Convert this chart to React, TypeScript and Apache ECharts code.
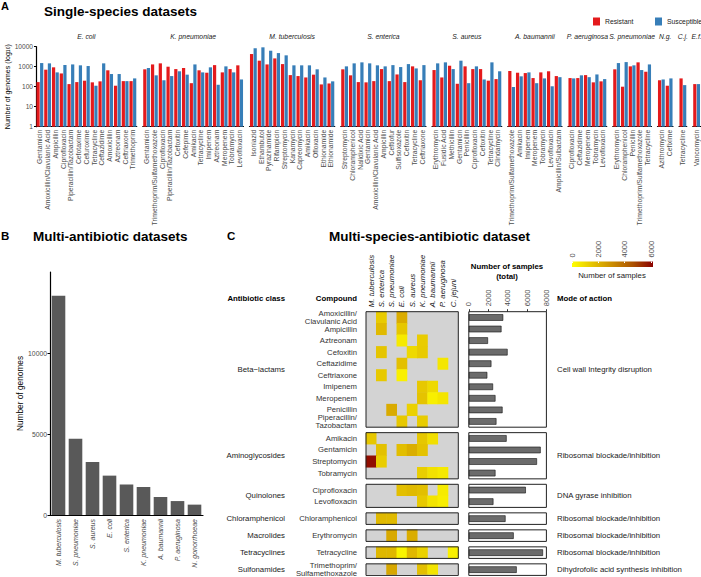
import React, { useEffect, useRef } from "react";
import * as echarts from "echarts";

const FONT = "'Liberation Sans', Arial, Helvetica, sans-serif";
const RED = "#E41A1C";
const BLUE = "#377EB8";
const AXIS_TEXT = "#4D4D4D";

// ---------------- Panel A: single-species datasets ----------------
const ecoliDrugs = ["Gentamicin", "Amoxicillin/Clavulanic Acid", "Ampicillin", "Ciprofloxacin", "Piperacillin/Tazobactam", "Cefotaxime", "Cefuroxime", "Tetracycline", "Ceftazidime", "Amoxicillin", "Aztreonam", "Ceftriaxone", "Trimethoprim"];
const ecoliResistant = [170, 710, 930, 460, 135, 170, 200, 165, 185, 660, 112, 190, 190];
const ecoliSusceptible = [1520, 1470, 520, 1200, 1300, 1170, 1080, 112, 1470, 430, 430, 190, 260];

const kpnDrugs = ["Gentamicin", "Trimethoprim/Sulfamethoxazole", "Ciprofloxacin", "Piperacillin/Tazobactam", "Cefoxitin", "Cefepime", "Amikacin", "Tetracycline", "Imipenem", "Aztreonam", "Meropenem", "Tobramycin", "Levofloxacin"];
const kpnResistant = [740, 1300, 1470, 1000, 760, 860, 150, 660, 500, 1200, 520, 760, 1170];
const kpnSusceptible = [860, 370, 210, 340, 590, 400, 1300, 520, 930, 125, 1040, 520, 230];

const mtbDrugs = ["Isoniazid", "Ethambutol", "Pyrazinamide", "Rifampicin", "Streptomycin", "Kanamycin", "Capreomycin", "Amikacin", "Ofloxacin", "Ethionamide", "Ethionamide"];
const mtbResistant = [4300, 2000, 1300, 2600, 1350, 380, 340, 290, 400, 130, 145];
const mtbSusceptible = [8300, 9300, 6300, 4800, 3700, 1170, 1170, 1170, 740, 290, 185];

const senDrugs = ["Streptomycin", "Chloramphenicol", "Nalidixic Acid", "Gentamicin", "Amoxicillin/Clavulanic Acid", "Ampicillin", "Ceftiofur", "Sulfisoxazole", "Cefoxitin", "Tetracycline", "Ceftriaxone"];
const senResistant = [740, 370, 170, 165, 190, 760, 190, 410, 170, 1040, 210];
const senSusceptible = [1040, 1470, 1650, 1470, 1170, 1040, 1200, 960, 1350, 820, 1200];

const sauDrugs = ["Erythromycin", "Fusidic Acid", "Methicillin", "Gentamicin", "Penicillin", "Ciprofloxacin", "Cefoxitin", "Tetracycline", "Clindamycin"];
const sauResistant = [680, 290, 1120, 140, 1040, 760, 760, 200, 240];
const sauSusceptible = [1470, 1650, 760, 2000, 150, 1040, 230, 1650, 590];

const abaDrugs = ["Trimethoprim/Sulfamethoxazole", "Amikacin", "Imipenem", "Meropenem", "Tobramycin", "Levofloxacin", "Ampicillin/Sulbactam"];
const abaResistant = [610, 500, 480, 270, 520, 590, 340];
const abaSusceptible = [96, 330, 520, 150, 260, 105, 300];

const paeDrugs = ["Ciprofloxacin", "Ceftazidime", "Meropenem", "Tobramycin", "Levofloxacin"];
const paeResistant = [270, 270, 380, 165, 185];
const paeSusceptible = [260, 370, 300, 410, 240];

const spnDrugs = ["Erythromycin", "Chloramphenicol", "Penicillin", "Trimethoprim/Sulfamethoxazole", "Tetracycline"];
const spnResistant = [740, 100, 1040, 1650, 560];
const spnSusceptible = [1520, 1700, 1170, 680, 1300];

const ngoDrugs = ["Azithromycin", "Cefixime"];
const ngoResistant = [210, 112];
const ngoSusceptible = [230, 260];

const cjeDrugs = ["Tetracycline"];
const cjeResistant = [260];
const cjeSusceptible = [120];

const efaDrugs = ["Vancomycin"];
const efaResistant = [135];
const efaSusceptible = [135];

const facetSpecies = ["E. coli", "K. pneumoniae", "M. tuberculosis", "S. enterica", "S. aureus", "A. baumannii", "P. aeruginosa", "S. pneumoniae", "N.g.", "C.j.", "E.f."];
const facetDrugs = [ecoliDrugs, kpnDrugs, mtbDrugs, senDrugs, sauDrugs, abaDrugs, paeDrugs, spnDrugs, ngoDrugs, cjeDrugs, efaDrugs];
const facetResistant = [ecoliResistant, kpnResistant, mtbResistant, senResistant, sauResistant, abaResistant, paeResistant, spnResistant, ngoResistant, cjeResistant, efaResistant];
const facetSusceptible = [ecoliSusceptible, kpnSusceptible, mtbSusceptible, senSusceptible, sauSusceptible, abaSusceptible, paeSusceptible, spnSusceptible, ngoSusceptible, cjeSusceptible, efaSusceptible];

// ---------------- Panel B: multi-antibiotic datasets ----------------
const speciesB = ["M. tuberculosis", "S. pneumoniae", "S. aureus", "E. coli", "S. enterica", "K. pneumoniae", "A. baumannii", "P. aeruginosa", "N. gonorrhoeae"];
const genomesB = [13540, 4710, 3270, 2430, 1890, 1730, 1110, 860, 640];
const genomeTicks = [0, 5000, 10000];

// ---------------- Panel C: multi-species-antibiotic dataset ----------------
const speciesC = ["M. tuberculosis", "S. enterica", "S. pneumoniae", "E. coli", "S. aureus", "K. pneumoniae", "A. baumannii", "P. aeruginosa", "C. jejuni"];
const classNames = ["Beta\u2212lactams", "Aminoglycosides", "Quinolones", "Chloramphenicol", "Macrolides", "Tetracyclines", "Sulfonamides"];
const modeOfAction = ["Cell wall Integrity disruption", "Ribosomal blockade/inhibition", "DNA gyrase inhibition", "Ribosomal blockade/inhibition", "Ribosomal blockade/inhibition", "Ribosomal blockade/inhibition", "Dihydrofolic acid synthesis inhibition"];

const betaCompounds = ["Amoxicillin/\nClavulanic Acid", "Ampicillin", "Aztreonam", "Cefoxitin", "Ceftazidime", "Ceftriaxone", "Imipenem", "Meropenem", "Penicillin", "Piperacillin/\nTazobactam"];
const aminoCompounds = ["Amikacin", "Gentamicin", "Streptomycin", "Tobramycin"];
const quinoCompounds = ["Ciprofloxacin", "Levofloxacin"];
const chloraCompounds = ["Chloramphenicol"];
const macroCompounds = ["Erythromycin"];
const tetraCompounds = ["Tetracycline"];
const sulfaCompounds = ["Trimethoprim/\nSulfamethoxazole"];

const betaCells: [string, string, number][] = [
  ["Amoxicillin/\nClavulanic Acid", "S. enterica", 1360],
  ["Amoxicillin/\nClavulanic Acid", "E. coli", 2180],
  ["Ampicillin", "S. enterica", 1800],
  ["Ampicillin", "E. coli", 1450],
  ["Aztreonam", "E. coli", 540],
  ["Aztreonam", "K. pneumoniae", 1330],
  ["Cefoxitin", "S. enterica", 1520],
  ["Cefoxitin", "S. aureus", 990],
  ["Cefoxitin", "K. pneumoniae", 1350],
  ["Ceftazidime", "E. coli", 1650],
  ["Ceftazidime", "P. aeruginosa", 640],
  ["Ceftriaxone", "S. enterica", 1410],
  ["Ceftriaxone", "E. coli", 380],
  ["Imipenem", "K. pneumoniae", 1430],
  ["Imipenem", "A. baumannii", 1000],
  ["Meropenem", "K. pneumoniae", 1560],
  ["Meropenem", "A. baumannii", 420],
  ["Meropenem", "P. aeruginosa", 680],
  ["Penicillin", "S. pneumoniae", 2210],
  ["Penicillin", "S. aureus", 1190],
  ["Piperacillin/\nTazobactam", "E. coli", 1430],
  ["Piperacillin/\nTazobactam", "K. pneumoniae", 1340],
];
const aminoCells: [string, string, number][] = [
  ["Amikacin", "M. tuberculosis", 1460],
  ["Amikacin", "K. pneumoniae", 1450],
  ["Amikacin", "A. baumannii", 830],
  ["Gentamicin", "S. enterica", 1630],
  ["Gentamicin", "E. coli", 1690],
  ["Gentamicin", "S. aureus", 2140],
  ["Gentamicin", "K. pneumoniae", 1600],
  ["Streptomycin", "M. tuberculosis", 5900],
  ["Streptomycin", "S. enterica", 1300],
  ["Tobramycin", "K. pneumoniae", 1280],
  ["Tobramycin", "A. baumannii", 780],
  ["Tobramycin", "P. aeruginosa", 580],
];
const quinoCells: [string, string, number][] = [
  ["Ciprofloxacin", "E. coli", 1660],
  ["Ciprofloxacin", "S. aureus", 1800],
  ["Ciprofloxacin", "K. pneumoniae", 1680],
  ["Ciprofloxacin", "P. aeruginosa", 530],
  ["Levofloxacin", "K. pneumoniae", 1400],
  ["Levofloxacin", "A. baumannii", 700],
  ["Levofloxacin", "P. aeruginosa", 430],
];
const chloraCells: [string, string, number][] = [
  ["Chloramphenicol", "S. enterica", 1840],
  ["Chloramphenicol", "S. pneumoniae", 1800],
];
const macroCells: [string, string, number][] = [
  ["Erythromycin", "S. pneumoniae", 2260],
  ["Erythromycin", "S. aureus", 2150],
];
const tetraCells: [string, string, number][] = [
  ["Tetracycline", "S. enterica", 1860],
  ["Tetracycline", "S. pneumoniae", 1860],
  ["Tetracycline", "E. coli", 280],
  ["Tetracycline", "S. aureus", 1850],
  ["Tetracycline", "K. pneumoniae", 1180],
  ["Tetracycline", "C. jejuni", 380],
];
const sulfaCells: [string, string, number][] = [
  ["Trimethoprim/\nSulfamethoxazole", "S. pneumoniae", 2330],
  ["Trimethoprim/\nSulfamethoxazole", "K. pneumoniae", 1670],
  ["Trimethoprim/\nSulfamethoxazole", "A. baumannii", 700],
];

const betaTotals = [3550, 3370, 1980, 4000, 2330, 1910, 2500, 2750, 3480, 2850];
const aminoTotals = [3900, 7410, 7030, 2750];
const quinoTotals = [5880, 2540];
const chloraTotals = [3790];
const macroTotals = [4630];
const tetraTotals = [7650];
const sulfaTotals = [4940];
const totalTicks = [0, 2000, 4000, 6000, 8000];

const classCompounds = [betaCompounds, aminoCompounds, quinoCompounds, chloraCompounds, macroCompounds, tetraCompounds, sulfaCompounds];
const classCells = [betaCells, aminoCells, quinoCells, chloraCells, macroCells, tetraCells, sulfaCells];
const classTotals = [betaTotals, aminoTotals, quinoTotals, chloraTotals, macroTotals, tetraTotals, sulfaTotals];

const colorTicks = [0, 2000, 4000, 6000];
const colorMax = 6150;
const heatColors = ["#FFFF00", "#E5C400", "#CA8B00", "#AC5200", "#8B0000"];

const plain = (v: number) => String(Math.round(v));

function textEl(x: number, y: number, t: string, o: any = {}) {
  return {
    type: "text",
    x,
    y,
    rotation: o.rotation ?? 0,
    z: 100,
    silent: true,
    style: {
      text: t,
      fontFamily: FONT,
      fontSize: o.size ?? 8,
      fontWeight: o.weight ?? "normal",
      fontStyle: o.style ?? "normal",
      fill: o.color ?? "#000",
      align: o.align ?? "left",
      verticalAlign: "middle",
    },
  };
}

function buildOption() {
  const grids: any[] = [];
  const xAxes: any[] = [];
  const yAxes: any[] = [];
  const series: any[] = [];
  const graphics: any[] = [];
  const heatSeriesIdx: number[] = [];
  const refs = { hmX: -1, totX: -1, cbX: -1, hmTop: 0, totTop: 0, cbTop: 0 };

  const text = (x: number, y: number, t: string, o: any = {}) => graphics.push(textEl(x, y, t, o));
  const box = (x: number, y: number, w: number, h: number) => {
    graphics.push({
      type: "rect",
      z: 100,
      silent: true,
      shape: { x, y, width: w, height: h },
      style: { fill: "none", stroke: "#222", lineWidth: 1 },
    });
  };

  // Headings
  text(1, 6, "A", { size: 11, weight: "bold" });
  text(44, 11.5, "Single-species datasets", { size: 13.5, weight: "bold" });
  text(1, 236, "B", { size: 11.5, weight: "bold" });
  text(33, 236, "Multi-antibiotic datasets", { size: 13.5, weight: "bold" });
  text(227, 236, "C", { size: 11.5, weight: "bold" });
  text(329, 236, "Multi-species-antibiotic dataset", { size: 13.5, weight: "bold" });

  // ---- Panel A ----
  const catW = 7.75;
  let left = 36;
  facetSpecies.forEach((sp, i) => {
    const n = facetDrugs[i].length;
    const w = n * catW;
    const gi = grids.length;
    grids.push({ left, top: 46.7, width: w, height: 80 });
    xAxes.push({
      type: "category",
      gridIndex: gi,
      data: facetDrugs[i],
      axisLine: { onZero: false, lineStyle: { color: "#000", width: 1.2 } },
      axisTick: { alignWithLabel: true, length: 2, lineStyle: { color: "#000" } },
      axisLabel: { interval: 0, rotate: 90, fontSize: 6.8, color: AXIS_TEXT, margin: 3, fontFamily: FONT },
    });
    const first = i === 0;
    yAxes.push({
      type: "log",
      logBase: 10,
      gridIndex: gi,
      min: 1,
      max: 10000,
      show: first,
      splitLine: { show: false },
      axisLine: { show: true, onZero: false, lineStyle: { color: "#000", width: 1.2 } },
      axisTick: { show: true, length: 2, lineStyle: { color: "#000" } },
      axisLabel: { fontSize: 6.6, color: AXIS_TEXT, margin: 3, fontFamily: FONT, formatter: plain },
      name: first ? "Number of genomes (log{sub|10})" : "",
      nameLocation: "middle",
      nameRotate: 90,
      nameGap: 23,
      nameTextStyle: {
        fontSize: 7,
        color: "#000",
        fontFamily: FONT,
        rich: { sub: { fontSize: 5, verticalAlign: "bottom", fontFamily: FONT, color: "#000" } },
      },
    });
    const xi = xAxes.length - 1;
    const yi = yAxes.length - 1;
    series.push({
      type: "bar",
      name: "Resistant",
      xAxisIndex: xi,
      yAxisIndex: yi,
      data: facetResistant[i],
      itemStyle: { color: RED },
      barGap: "12%",
      barCategoryGap: "12%",
    });
    series.push({
      type: "bar",
      name: "Susceptible",
      xAxisIndex: xi,
      yAxisIndex: yi,
      data: facetSusceptible[i],
      itemStyle: { color: BLUE },
      barGap: "12%",
      barCategoryGap: "12%",
    });
    text(left + w / 2, 36, sp, { size: 6.8, style: "italic", align: "center", color: "#1a1a1a" });
    left += w + 6;
  });

  // ---- Panel B ----
  {
    const gi = grids.length;
    grids.push({ left: 50, top: 272, width: 153, height: 243 });
    xAxes.push({
      type: "category",
      gridIndex: gi,
      data: speciesB,
      axisLine: { onZero: false, lineStyle: { color: "#000", width: 1.2 } },
      axisTick: { alignWithLabel: true, length: 2.5, lineStyle: { color: "#000" } },
      axisLabel: { interval: 0, rotate: 90, fontSize: 7, fontStyle: "italic", color: AXIS_TEXT, margin: 4, fontFamily: FONT },
    });
    yAxes.push({
      type: "value",
      gridIndex: gi,
      min: 0,
      max: 15000,
      splitLine: { show: false },
      axisLine: { show: true, onZero: false, lineStyle: { color: "#000", width: 1.2 } },
      axisTick: { show: true, length: 2.5, customValues: genomeTicks, lineStyle: { color: "#000" } },
      axisLabel: { customValues: genomeTicks, fontSize: 6.8, color: AXIS_TEXT, margin: 3, fontFamily: FONT, formatter: plain },
      name: "Number of genomes",
      nameLocation: "middle",
      nameRotate: 90,
      nameGap: 24,
      nameTextStyle: { fontSize: 8.3, color: "#000", fontFamily: FONT },
    });
    series.push({
      type: "bar",
      name: "Genomes",
      xAxisIndex: xAxes.length - 1,
      yAxisIndex: yAxes.length - 1,
      data: genomesB,
      itemStyle: { color: "#595959" },
      barCategoryGap: "20%",
    });
  }

  // ---- Panel C ----
  const HM_LEFT = 366;
  const HM_W = 92.3;
  const TOT_LEFT = 468.8;
  const TOT_W = 77.6;
  const rowH = 11.55;
  const groupGap = 5.45;
  let top = 311.7;
  refs.hmTop = top;
  refs.totTop = top;

  text(285, 298, "Antibiotic class", { size: 7.8, weight: "bold", align: "right" });
  text(357, 298, "Compound", { size: 7.8, weight: "bold", align: "right" });
  text(507, 266, "Number of samples", { size: 7.8, weight: "bold", align: "center" });
  text(507, 276, "(total)", { size: 7.8, weight: "bold", align: "center" });
  text(557, 298, "Mode of action", { size: 7.8, weight: "bold" });

  classCompounds.forEach((compounds, k) => {
    const h = compounds.length * rowH;
    // heatmap grid
    let gi = grids.length;
    grids.push({ left: HM_LEFT, top, width: HM_W, height: h, show: true, backgroundColor: "#D3D3D3", borderWidth: 0 });
    if (k === 0) refs.hmX = xAxes.length;
    xAxes.push({
      type: "category",
      gridIndex: gi,
      data: speciesC,
      position: "top",
      axisLine: { show: false },
      axisTick: { show: false },
      axisLabel: { show: false },
    });
    yAxes.push({
      type: "category",
      gridIndex: gi,
      data: compounds,
      inverse: true,
      axisLine: { show: false },
      axisTick: { show: false },
      axisLabel: { interval: 0, fontSize: 7.7, color: "#333", margin: 9, lineHeight: 7.6, fontFamily: FONT },
    });
    heatSeriesIdx.push(series.length);
    series.push({
      type: "heatmap",
      xAxisIndex: xAxes.length - 1,
      yAxisIndex: yAxes.length - 1,
      data: classCells[k].map(([c, s, v]) => [speciesC.indexOf(s), compounds.indexOf(c), v]),
      itemStyle: { borderWidth: 0 },
    });
    box(HM_LEFT, top, HM_W, h);

    // totals grid
    gi = grids.length;
    grids.push({ left: TOT_LEFT, top, width: TOT_W, height: h });
    if (k === 0) refs.totX = xAxes.length;
    xAxes.push({
      type: "value",
      gridIndex: gi,
      min: 0,
      max: 8000,
      interval: 2000,
      position: "top",
      show: k === 0,
      splitLine: { show: false },
      axisLine: { show: false },
      axisTick: { show: true, length: 2.5, lineStyle: { color: "#333" } },
      axisLabel: { show: false },
    });
    yAxes.push({ type: "category", gridIndex: gi, data: compounds, inverse: true, show: false });
    series.push({
      type: "bar",
      name: "Total",
      xAxisIndex: xAxes.length - 1,
      yAxisIndex: yAxes.length - 1,
      data: classTotals[k],
      barWidth: 6.6,
      itemStyle: { color: "#6B6B6B", borderColor: "#111", borderWidth: 0.6 },
    });
    box(TOT_LEFT, top, TOT_W, h);

    text(285, top + h / 2, classNames[k], { size: 7.8, align: "right", color: "#1a1a1a" });
    text(557, top + h / 2, modeOfAction[k], { size: 7.8, color: "#1a1a1a" });

    top += h + groupGap;
  });

  // colour bar legend
  {
    const gi = grids.length;
    refs.cbTop = 261.5;
    grids.push({ left: 572, top: 261.5, width: 81, height: 5.5 });
    refs.cbX = xAxes.length;
    xAxes.push({
      type: "value",
      gridIndex: gi,
      min: 0,
      max: colorMax,
      position: "top",
      z: 5,
      splitLine: { show: false },
      axisLine: { show: false },
      axisTick: { show: true, inside: true, length: 1.5, customValues: colorTicks, lineStyle: { color: "#fff" } },
      axisLabel: { show: false },
    });
    yAxes.push({ type: "category", gridIndex: gi, data: ["n"], show: false });
    series.push({
      type: "bar",
      name: "Colour scale",
      silent: true,
      xAxisIndex: xAxes.length - 1,
      yAxisIndex: yAxes.length - 1,
      data: [colorMax],
      barWidth: "100%",
      itemStyle: {
        color: new echarts.graphic.LinearGradient(
          0, 0, 1, 0,
          heatColors.map((c, i) => ({ offset: i / (heatColors.length - 1), color: c }))
        ),
      },
    });
    text(612, 275.5, "Number of samples", { size: 7.8, align: "center", color: "#1a1a1a" });
  }

  const legendBase = {
    icon: "rect",
    itemWidth: 7,
    itemHeight: 8,
    top: 17.5,
    selectedMode: false,
    textStyle: { fontSize: 6.8, color: "#1a1a1a", fontFamily: FONT },
    padding: 0,
  };

  const option = {
    animation: false,
    backgroundColor: "#ffffff",
    textStyle: { fontFamily: FONT },
    legend: [
      { ...legendBase, data: ["Resistant"], left: 593 },
      { ...legendBase, data: ["Susceptible"], left: 655 },
    ],
    visualMap: [
      {
        type: "continuous",
        show: false,
        min: 0,
        max: colorMax,
        seriesIndex: heatSeriesIdx,
        dimension: 2,
        inRange: { color: heatColors },
      },
    ],
    grid: grids,
    xAxis: xAxes,
    yAxis: yAxes,
    series,
  };
  return { option, graphics, refs };
}

export default function App() {
  const ref = useRef<HTMLDivElement>(null);
  useEffect(() => {
    if (!ref.current) return;
    const chart = echarts.init(ref.current, undefined, { renderer: "svg" });
    const { option, graphics, refs } = buildOption();
    chart.setOption(option as any);

    // Rotated labels for top axes, placed with the axes' own scales.
    const extra: any[] = [];
    const px = (axis: number, v: number) => chart.convertToPixel({ xAxisIndex: axis } as any, v) as unknown as number;
    const up = Math.PI / 2;
    speciesC.forEach((s, i) => {
      extra.push(textEl(px(refs.hmX, i), refs.hmTop - 4.5, s, { rotation: up, size: 7.8, style: "italic", color: "#1a1a1a" }));
    });
    totalTicks.forEach((v) => {
      extra.push(textEl(px(refs.totX, v), refs.totTop - 5.5, plain(v), { rotation: up, size: 7.5, color: AXIS_TEXT }));
    });
    colorTicks.forEach((v) => {
      extra.push(textEl(px(refs.cbX, v), refs.cbTop - 4, plain(v), { rotation: up, size: 7.5, color: AXIS_TEXT }));
    });
    chart.setOption({ graphic: [...graphics, ...extra] } as any);
    return () => chart.dispose();
  }, []);
  return (
    <div
      ref={ref}
      style={{ position: "absolute", left: 0, top: 0, width: 701, height: 577, background: "#fff" }}
    />
  );
}
